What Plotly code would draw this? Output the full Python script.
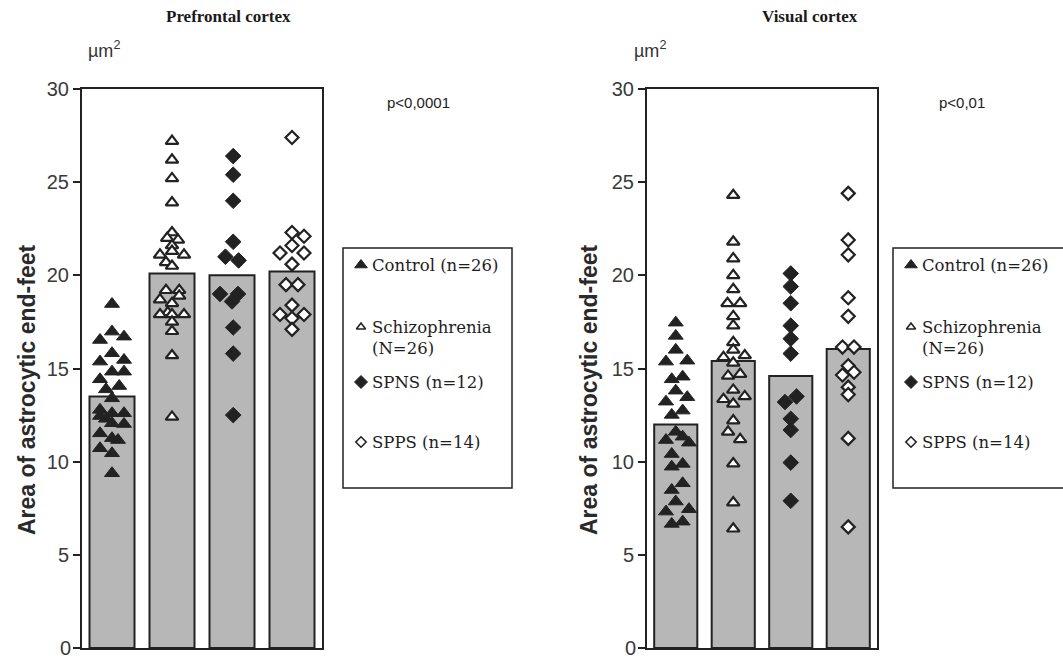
import plotly.graph_objects as go

# ---- data -------------------------------------------------------------
groups = ["Control", "Schizophrenia", "SPNS", "SPPS"]

# group means (bars), µm²
pfc_means = [13.5, 20.1, 20.0, 20.2]
vis_means = [12.0, 15.4, 14.6, 16.05]

# individual cases, prefrontal cortex
pfc_control = [18.46, 16.98, 16.53, 16.71, 15.82, 15.37, 15.46, 14.83, 14.83, 14.42, 14.06, 13.88, 13.40,
               12.78, 12.45, 12.60, 12.60, 12.06, 12.02, 11.52, 11.26, 11.16, 10.72, 10.45, 9.38, 12.3]
pfc_schizo = [27.2, 26.2, 25.2, 23.9, 22.3, 22.0, 21.9, 21.6, 21.3, 21.1, 21.1, 20.7, 20.5,
              19.2, 19.2, 18.9, 18.7, 18.5, 18.0, 17.9, 17.9, 17.9, 17.5, 17.0, 15.7, 12.4]
pfc_spns = [26.4, 25.4, 24.0, 21.8, 21.0, 20.8, 19.0, 19.0, 18.6, 17.2, 15.8, 12.5]
pfc_spps = [27.4, 22.3, 22.1, 21.6, 21.2, 21.2, 20.6, 19.5, 19.5, 18.4, 17.9, 17.9, 17.7, 17.1]

# individual cases, visual cortex
vis_control = [17.46, 16.75, 16.0, 15.37, 15.42, 14.42, 14.56, 13.81, 13.46, 13.22, 12.51, 12.74, 11.16,
               11.34, 11.02, 10.41, 9.73, 9.88, 8.48, 8.84, 7.86, 7.45, 7.32, 6.66, 6.78, 11.6]
vis_schizo = [24.3, 21.8, 20.9, 20.0, 19.25, 18.5, 18.5, 17.8, 17.3, 16.4, 16.0, 15.6, 15.7,
              15.3, 14.6, 14.7, 13.85, 13.35, 13.5, 13.1, 12.2, 11.6, 11.2, 9.9, 7.8, 6.4]
vis_spns = [20.1, 19.4, 18.5, 17.3, 16.6, 15.8, 13.2, 13.5, 12.3, 11.7, 9.95, 7.9]
vis_spps = [24.4, 21.9, 21.1, 18.8, 17.8, 16.15, 16.15, 15.15, 14.65, 14.8, 14.0, 13.6, 11.25, 6.5]

# horizontal spread of the dots inside each column (fraction of a category)
pfc_control_dx = [0, 0, -0.2, 0.2, 0, -0.2, 0.2, 0, 0.2, -0.2, 0.12, -0.1, 0, -0.2, -0.2, 0, 0.2, 0, 0.2,
                  -0.2, 0, 0.1, -0.2, 0, 0, -0.1]
pfc_schizo_dx = [0, 0, 0, 0, 0, -0.08, 0.1, 0, 0, -0.2, 0.2, -0.1, 0, -0.1, 0.12, 0.12, -0.2, 0, -0.07,
                 -0.2, 0, 0.2, 0, 0, 0, 0]
pfc_spns_dx = [0.02, 0.02, 0.02, 0.02, -0.11, 0.11, -0.2, 0.1, 0.0, 0.02, 0.02, 0.02]
pfc_spps_dx = [0, 0, 0.2, 0, -0.2, 0.2, 0, -0.1, 0.1, 0, -0.2, 0.2, 0, 0]

vis_control_dx = [0, 0, 0, -0.17, 0.2, -0.07, 0.12, 0, 0.2, -0.17, -0.07, 0.12, -0.17, 0.12, 0.23, -0.07,
                  -0.07, 0.12, -0.07, 0.12, 0, 0.23, -0.17, -0.07, 0.12, 0]
vis_schizo_dx = [0, 0, 0, 0, 0, -0.1, 0.12, 0, 0, 0, 0, -0.17, 0.2, 0, -0.09, 0.12, 0, -0.17, 0.2, 0, 0,
                 -0.09, 0.12, 0, 0, 0]
vis_spns_dx = [0, 0, 0, 0, 0, 0, -0.1, 0.1, 0, 0, 0, 0]
vis_spps_dx = [0, 0, 0, 0, 0, -0.1, 0.1, 0, -0.1, 0.1, 0, 0, 0, 0]

legend_labels = ["Control (n=26)", "Schizophrenia<br>(N=26)", "SPNS (n=12)", "SPPS (n=14)"]
p_values = ["p<0,0001", "p<0,01"]
panel_titles = ["Prefrontal cortex", "Visual cortex"]
y_ticks = [0, 5, 10, 15, 20, 25, 30]

# ---- styling ----------------------------------------------------------
W, H = 1063, 656
INK = "#222222"
BAR = "#b7b7b7"
SANS = "Liberation Sans, Arial, sans-serif"
SERIF = "DejaVu Serif, Liberation Serif, serif"
CLEAR = "rgba(0,0,0,0)"
TICK_FONT = dict(family=SANS, size=20, color="#3a3a3a")

styles = [
    dict(symbol="triangle-up", size=13, color=INK, line=dict(color=INK, width=1)),
    dict(symbol="triangle-up", size=11, color="white", line=dict(color=INK, width=2.2)),
    dict(symbol="diamond", size=12, color=INK, line=dict(color=INK, width=1)),
    dict(symbol="diamond", size=10, color="white", line=dict(color=INK, width=2.2)),
]
legend_sizes = [11, 8, 10, 8]


def fx(px):
    return px / W


def fy(py):
    return 1 - py / H


fig = go.Figure()

panels = [
    dict(xa="x", ya="y", means=pfc_means,
         pts=[(pfc_control, pfc_control_dx), (pfc_schizo, pfc_schizo_dx),
              (pfc_spns, pfc_spns_dx), (pfc_spps, pfc_spps_dx)]),
    dict(xa="x2", ya="y2", means=vis_means,
         pts=[(vis_control, vis_control_dx), (vis_schizo, vis_schizo_dx),
              (vis_spns, vis_spns_dx), (vis_spps, vis_spps_dx)]),
]

for p in panels:
    fig.add_trace(go.Bar(
        x=list(range(len(groups))), y=p["means"], width=0.75,
        marker=dict(color=BAR, line=dict(color=INK, width=2)),
        xaxis=p["xa"], yaxis=p["ya"], showlegend=False, hoverinfo="skip"))
    for i, (vals, dx) in enumerate(p["pts"]):
        fig.add_trace(go.Scatter(
            x=[i + d for d in dx], y=vals, mode="markers", marker=styles[i],
            xaxis=p["xa"], yaxis=p["ya"], showlegend=False, cliponaxis=False))

# legend markers drawn on a full-page overlay in pixel units
legend_rows = [265, 327, 382, 442]
for box_x in (343, 893):
    for i, row in enumerate(legend_rows):
        st = dict(styles[i])
        st["size"] = legend_sizes[i]
        st["line"] = dict(color=INK, width=1.6 if i % 2 else 1)
        fig.add_trace(go.Scatter(
            x=[box_x + 18], y=[row], mode="markers", marker=st,
            xaxis="x3", yaxis="y3", showlegend=False, hoverinfo="skip"))

y_top, y_bot = 89, 648
axis_common = dict(range=[0, 30], tickvals=y_ticks, ticktext=["" if v == 0 else str(v) for v in y_ticks],
                   ticks="outside", ticklen=7, tickwidth=1.5,
                   tickcolor=INK, showline=True, linecolor=INK, linewidth=2, mirror=True,
                   showgrid=False, zeroline=False, automargin=False, tickfont=TICK_FONT)
xaxis_common = dict(range=[-0.5, 3.5], showticklabels=False, ticks="", showline=True, linecolor=INK,
                    linewidth=2, mirror=True, showgrid=False, zeroline=False, automargin=False)

fig.update_layout(
    width=W, height=H, margin=dict(l=0, r=0, t=0, b=0, autoexpand=False),
    paper_bgcolor="white", plot_bgcolor=CLEAR, bargap=0.25,
    xaxis=dict(domain=[fx(82), fx(322)], anchor="y", **xaxis_common),
    yaxis=dict(domain=[fy(y_bot), fy(y_top)], anchor="x", **axis_common),
    xaxis2=dict(domain=[fx(647), fx(877)], anchor="y2", **xaxis_common),
    yaxis2=dict(domain=[fy(y_bot), fy(y_top)], anchor="x2", **axis_common),
    xaxis3=dict(domain=[0, 1], range=[0, W], visible=False, anchor="y3"),
    yaxis3=dict(domain=[0, 1], range=[H, 0], visible=False, anchor="x3"),
)

shapes = []
annotations = []
# legend frames
for box_x, box_r in ((343, 512), (893, 1070)):
    shapes.append(dict(type="rect", xref="paper", yref="paper",
                       x0=fx(box_x), x1=fx(box_r), y0=fy(488), y1=fy(248),
                       line=dict(color=INK, width=1.5), fillcolor=CLEAR))
    text_rows = [265, 338, 382, 442]
    for lab, row in zip(legend_labels, text_rows):
        annotations.append(dict(xref="paper", yref="paper", x=fx(box_x + 27), y=fy(row),
                                text=lab, showarrow=False, xanchor="left", yanchor="middle",
                                align="left",
                                font=dict(family=SERIF, size=16.5, color="#1e1e1e")))

# zero label at the foot of each value axis (sits on the page's lower edge)
for axis_x in (82, 647):
    annotations.append(dict(xref="paper", yref="paper", x=fx(axis_x - 9), y=fy(y_bot),
                            text="0", showarrow=False, xanchor="right", yanchor="middle",
                            font=TICK_FONT))

# panel titles, units, p-values, axis titles
for title, cx, unit_x, pv, pv_x, ylab_x in (
        (panel_titles[0], 228, 104, p_values[0], 418, 27),
        (panel_titles[1], 810, 650, p_values[1], 962, 589)):
    annotations.append(dict(xref="paper", yref="paper", x=fx(cx), y=fy(17), text=f"<b>{title}</b>",
                            showarrow=False, xanchor="center", yanchor="middle",
                            font=dict(family="Liberation Serif, serif", size=17, color="#1a1a1a")))
    annotations.append(dict(xref="paper", yref="paper", x=fx(unit_x), y=fy(50), text="µm<sup>2</sup>",
                            showarrow=False, xanchor="center", yanchor="middle",
                            font=dict(family=SANS, size=18, color="#333")))
    annotations.append(dict(xref="paper", yref="paper", x=fx(pv_x), y=fy(102), text=pv,
                            showarrow=False, xanchor="center", yanchor="middle",
                            font=dict(family=SANS, size=15, color="#222")))
    annotations.append(dict(xref="paper", yref="paper", x=fx(ylab_x), y=fy(390),
                            text="<b>Area of astrocytic end-feet</b>", textangle=-90,
                            showarrow=False, xanchor="center", yanchor="middle",
                            font=dict(family=SANS, size=23, color="#2a2a2a")))

fig.update_layout(shapes=shapes, annotations=annotations)

fig.write_html("out.html")
